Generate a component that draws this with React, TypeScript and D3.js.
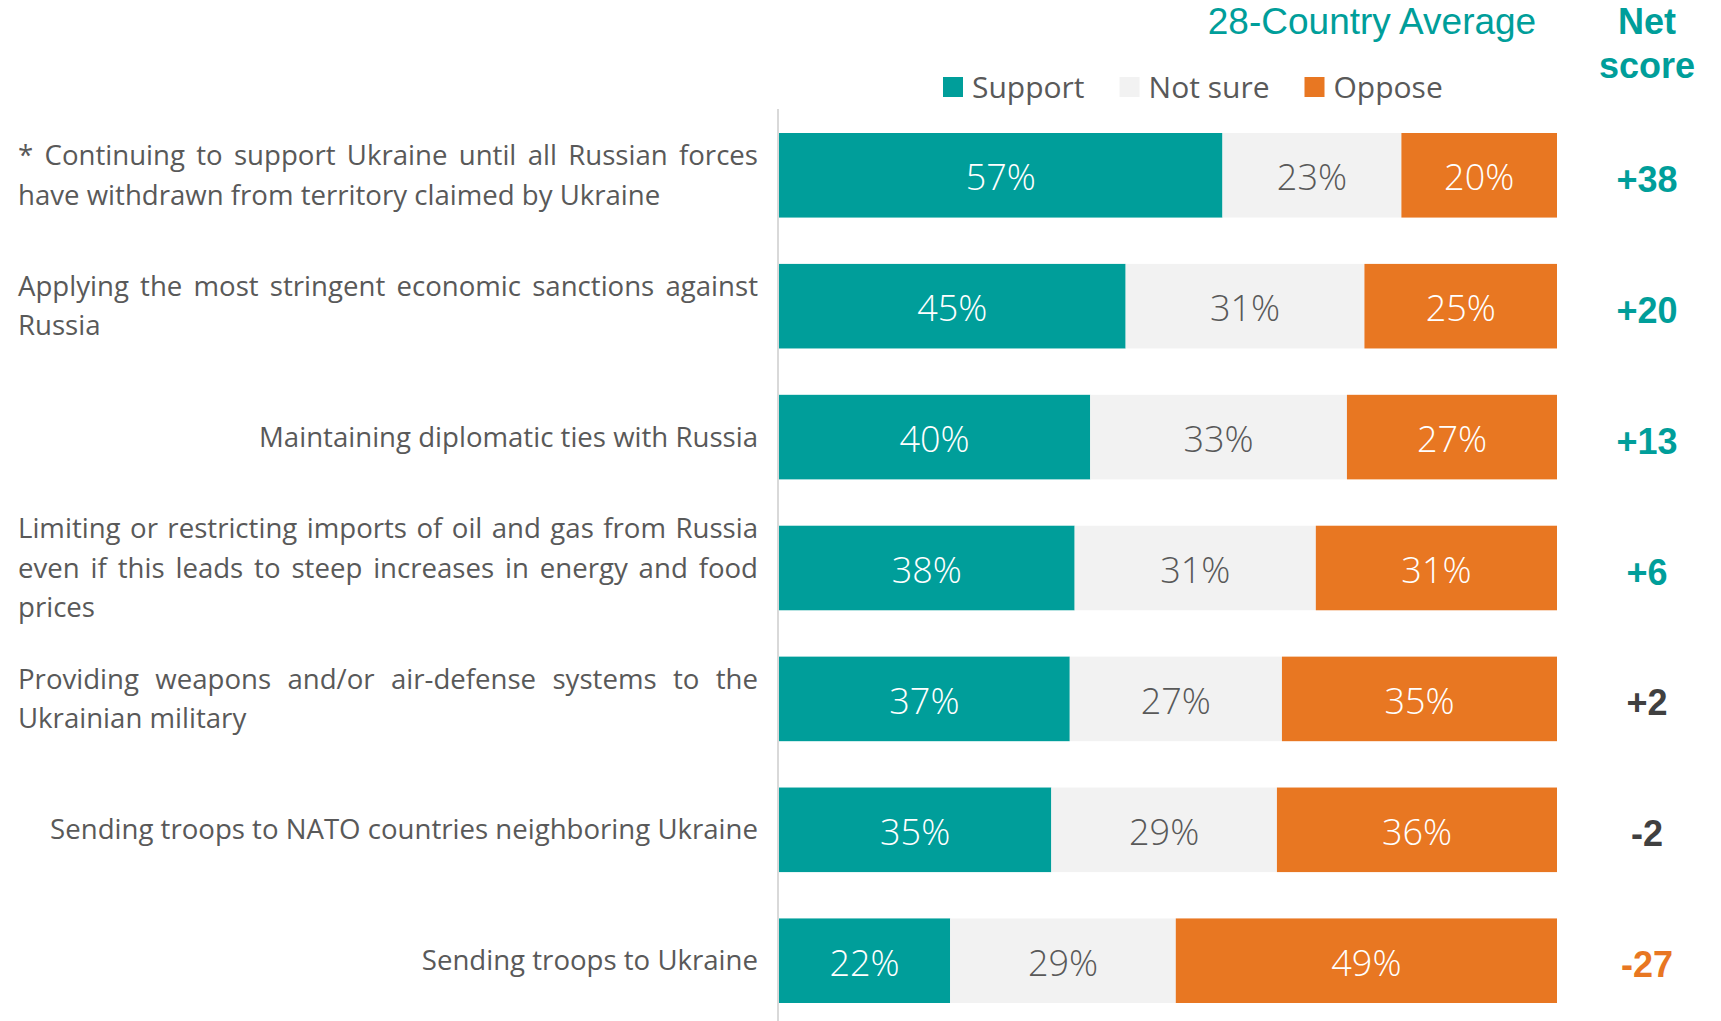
import React, { useEffect, useRef } from 'react';
import * as d3 from 'd3';

const categories = [
  'Continuing to support Ukraine',
  'Economic sanctions',
  'Diplomatic ties',
  'Limiting imports',
  'Providing weapons',
  'Troops to NATO neighbors',
  'Troops to Ukraine',
];

const labelLines = [
  ['* Continuing to support Ukraine until all Russian forces', 'have withdrawn from territory claimed by Ukraine'],
  ['Applying the most stringent economic sanctions against', 'Russia'],
  ['Maintaining diplomatic ties with Russia'],
  ['Limiting or restricting imports of oil and gas from Russia', 'even if this leads to steep increases in energy and food', 'prices'],
  ['Providing weapons and/or air-defense systems to the', 'Ukrainian military'],
  ['Sending troops to NATO countries neighboring Ukraine'],
  ['Sending troops to Ukraine'],
];

const support = [57, 45, 40, 38, 37, 35, 22];
const notSure = [23, 31, 33, 31, 27, 29, 29];
const oppose = [20, 25, 27, 31, 35, 36, 49];
const netScores = [38, 20, 13, 6, 2, -2, -27];

const keys = ['support', 'notSure', 'oppose'];
const legendLabels = ['Support', 'Not sure', 'Oppose'];
const colors: Record<string, string> = { support: '#009E9A', notSure: '#F2F2F2', oppose: '#E87722' };
const valueColors: Record<string, string> = { support: '#ffffff', notSure: '#595959', oppose: '#ffffff' };

const TEAL = '#009E9A';
const ORANGE = '#E87722';
const GREY_TEXT = '#595959';

export default function App() {
  const svgRef = useRef<SVGSVGElement>(null);

  useEffect(() => {
    if (!svgRef.current) return;
    const svg = d3.select(svgRef.current);
    svg.selectAll('*').remove();

    const x = d3.scaleLinear().domain([0, 1]).range([779, 1557]);
    const y = d3.scaleBand<string>().domain(categories).range([133, 1003]).paddingInner(0.354);

    const rows = categories.map((c, i) => ({
      category: c,
      support: support[i],
      notSure: notSure[i],
      oppose: oppose[i],
    }));
    const series = d3.stack<any>().keys(keys).offset(d3.stackOffsetExpand)(rows);

    // axis line
    svg.append('line')
      .attr('x1', 778).attr('x2', 778)
      .attr('y1', 109).attr('y2', 1021)
      .attr('stroke', '#D9D9D9').attr('stroke-width', 2);

    // bars
    series.forEach(s => {
      const g = svg.append('g');
      s.forEach((d, i) => {
        const cat = categories[i];
        g.append('rect')
          .attr('x', x(d[0]))
          .attr('y', y(cat)!)
          .attr('width', x(d[1]) - x(d[0]))
          .attr('height', y.bandwidth())
          .attr('fill', colors[s.key]);
        g.append('text')
          .attr('x', (x(d[0]) + x(d[1])) / 2)
          .attr('y', y(cat)! + y.bandwidth() / 2 + 15)
          .attr('text-anchor', 'middle')
          .attr('font-family', "'Open Sans', sans-serif")
          .attr('font-weight', 300)
          .attr('font-size', 36)
          .attr('fill', valueColors[s.key])
          .text(`${(d.data as any)[s.key]}%`);
      });
    });

    // category labels
    const left = 18, right = 758, lineGap = 39.5;
    labelLines.forEach((lines, i) => {
      const cy = y(categories[i])! + y.bandwidth() / 2;
      const first = cy + 9.5 - ((lines.length - 1) * lineGap) / 2;
      lines.forEach((ln, j) => {
        const t = svg.append('text')
          .attr('y', first + j * lineGap)
          .attr('font-family', "'Open Sans', sans-serif")
          .attr('font-size', 27.6)
          .attr('fill', GREY_TEXT)
          .text(ln);
        if (lines.length === 1) {
          t.attr('x', right).attr('text-anchor', 'end');
        } else {
          t.attr('x', left);
          if (j < lines.length - 1) {
            const len = (t.node() as SVGTextElement).getComputedTextLength();
            const spaces = (ln.match(/ /g) || []).length;
            if (spaces > 0) t.style('word-spacing', `${(right - left - len) / spaces}px`);
          }
        }
      });
    });

    // net scores
    netScores.forEach((v, i) => {
      const cy = y(categories[i])! + y.bandwidth() / 2;
      svg.append('text')
        .attr('x', 1647)
        .attr('y', cy + 16.5)
        .attr('text-anchor', 'middle')
        .attr('font-family', "'Liberation Sans', Arial, sans-serif")
        .attr('font-weight', 'bold')
        .attr('font-size', 36)
        .attr('fill', v >= 5 ? TEAL : v <= -5 ? ORANGE : '#404040')
        .text(v > 0 ? `+${v}` : `${v}`);
    });

    // title
    svg.append('text')
      .attr('x', 1372).attr('y', 34)
      .attr('text-anchor', 'middle')
      .attr('font-family', "'Liberation Sans', Arial, sans-serif")
      .attr('font-size', 37)
      .attr('fill', TEAL)
      .text('28-Country Average');

    ['Net', 'score'].forEach((w, i) => {
      svg.append('text')
        .attr('x', 1647).attr('y', 34 + i * 44)
        .attr('text-anchor', 'middle')
        .attr('font-family', "'Liberation Sans', Arial, sans-serif")
        .attr('font-weight', 'bold')
        .attr('font-size', 36)
        .attr('fill', TEAL)
        .text(w);
    });

    // legend
    let lx = 943;
    keys.forEach((k, i) => {
      svg.append('rect')
        .attr('x', lx).attr('y', 77)
        .attr('width', 20).attr('height', 20)
        .attr('fill', colors[k]);
      const t = svg.append('text')
        .attr('x', lx + 29).attr('y', 98)
        .attr('font-family', "'Open Sans', sans-serif")
        .attr('font-size', 30)
        .attr('fill', GREY_TEXT)
        .text(legendLabels[i]);
      lx += 29 + (t.node() as SVGTextElement).getComputedTextLength() + 35;
    });
  }, []);

  return (
    <svg
      ref={svgRef}
      width={1721}
      height={1021}
      style={{ position: 'absolute', left: 0, top: 0, background: '#fff' }}
    />
  );
}
